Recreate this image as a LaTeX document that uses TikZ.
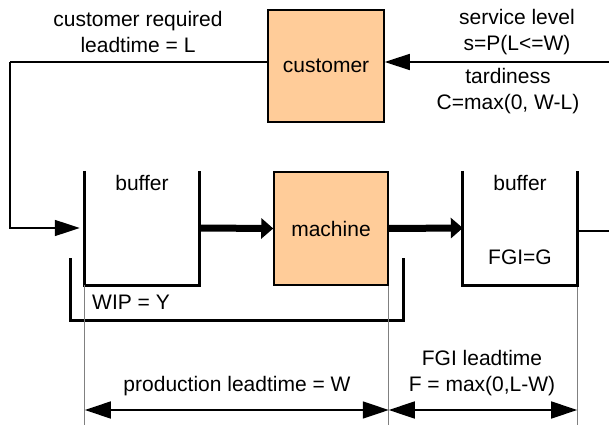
\documentclass[tikz,border=0pt]{standalone}
\usepackage{fontspec}
\setmainfont{Liberation Sans}
\usetikzlibrary{arrows.meta}
\definecolor{peach}{RGB}{255,204,153}
\tikzstyle{every node}=[font=\fontsize{21}{26}\selectfont, align=center]
\tikzstyle{station}=[draw=black, line width=1.5pt, fill=peach]
\tikzstyle{bin}=[minimum width=114pt, minimum height=114pt, inner sep=0pt]
\tikzstyle{wall}=[line width=3pt, line join=miter]
\tikzstyle{flow}=[line width=1.5pt, -{Triangle[length=25pt,width=16pt]}]
\tikzstyle{move}=[line width=7pt, -{Triangle[length=12pt,width=20pt]}]
\tikzstyle{span}=[line width=1.5pt, {Triangle[length=26pt,width=17pt]}-{Triangle[length=26pt,width=17pt]}]
\tikzstyle{guide}=[draw=gray, line width=1pt]

\begin{document}
\begin{tikzpicture}[x=1pt, y=-1pt]
  \useasboundingbox (0,0) rectangle (609,430);

  % stations and buffers
  \node [station, minimum width=116pt, minimum height=112pt] (customer) at (326,66) {customer};
  \node [station, minimum width=114pt, minimum height=113pt] (machine) at (331,228.5) {machine};
  \node [bin] (buf1) at (142,228) {};
  \node [bin] (buf2) at (520,228) {};
  \draw [wall] (buf1.north west) -- (buf1.south west) -- (buf1.south east) -- (buf1.north east);
  \draw [wall] (buf2.north west) -- (buf2.south west) -- (buf2.south east) -- (buf2.north east);
  \node (buf1txt) at (142,183) {buffer};
  \node (buf2txt) at (520,183) {buffer};
  \node (fgitxt) at (520,257) {FGI=G};

  % material flow
  \draw [move] (buf1.east) -- (machine.west);
  \draw [move] (machine.east) -- (buf2.west);

  % order flow
  \coordinate (turn) at (10,62);
  \coordinate (srv) at (609,62);
  \coordinate (out) at (609,231);
  \draw [line width=1.5pt] ([yshift=4pt]customer.west) -- (turn);
  \draw [flow] (turn) |- ([xshift=-5pt]buf1.west);
  \draw [flow] (srv) -- ([yshift=4pt]customer.east);
  \draw [line width=1.5pt] (buf2.east |- out) -- (out);
  \node (reqtxt) at (138,32) {customer required\\leadtime = L};
  \node (svctxt) at (517,32) {service level\\s=P(L<=W)};
  \node (tardtxt) at (508,91) {tardiness\\C=max(0, W-L)};

  % work in process
  \coordinate (wipL) at (70,258);
  \coordinate (wipR) at (403,258);
  \draw [wall] (wipL) |- (403,320) -- (wipR);
  \node (wiptxt) at (131,302) {WIP = Y};

  % lead times
  \coordinate (pl) at (buf1.south west |- 0,410);
  \coordinate (pm) at (machine.south east |- 0,410);
  \coordinate (pr) at (buf2.south east |- 0,410);
  \draw [guide] (buf1.south west) -- ([yshift=-15pt]pl);
  \draw [guide] (machine.south east) -- ([yshift=-15pt]pm);
  \draw [guide] ([yshift=-2pt]buf2.south east) -- ([yshift=-15pt]pr);
  \draw [span] (pl) -- (pm);
  \draw [span] (pm) -- (pr);
  \node (prodtxt) at (237,386) {production leadtime = W};
  \node (fgilt) at (482,373) {FGI leadtime\\F = max(0,L-W)};
\end{tikzpicture}
\end{document}
